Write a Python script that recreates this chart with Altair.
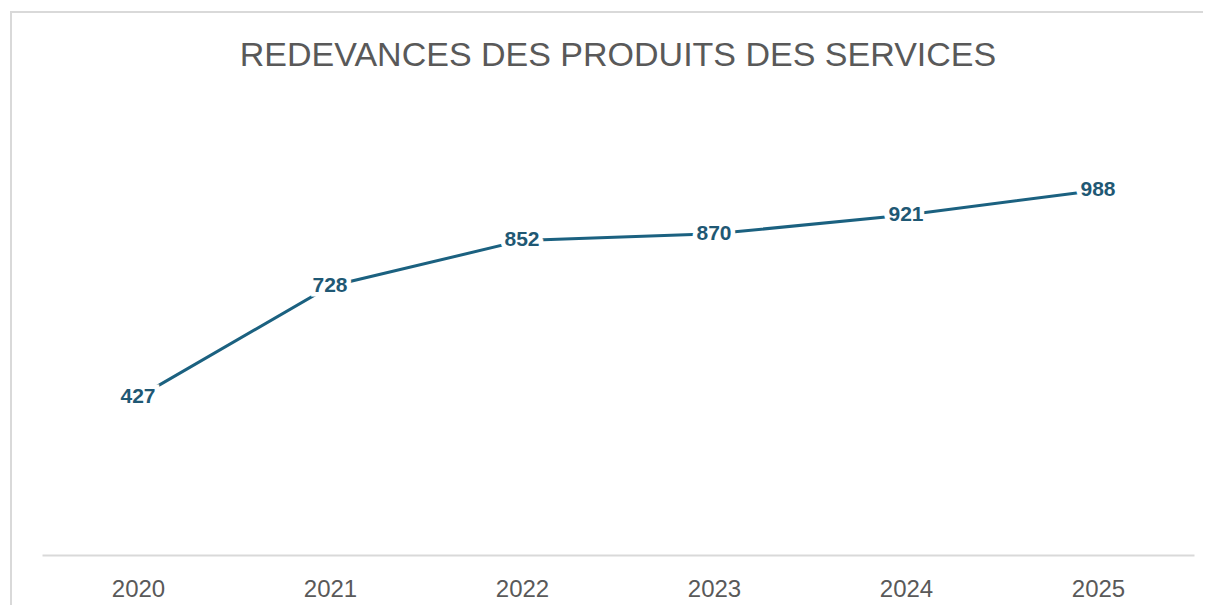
import altair as alt
import pandas as pd

years = ["2020", "2021", "2022", "2023", "2024", "2025"]
values = [427, 728, 852, 870, 921, 988]
title_text = "REDEVANCES DES PRODUITS DES SERVICES"

df = pd.DataFrame({"year": years, "value": values})

W, H = 1152, 443
LINE = "#1b6180"
LABEL = "#1f5874"
GRAY = "#595959"

x = alt.X("year:O", sort=years,
          scale=alt.Scale(type="point", padding=0.5),
          axis=alt.Axis(title=None, labelAngle=0, ticks=False, grid=False,
                        domainColor="#d9d9d9", domainWidth=2,
                        labelFont="Liberation Sans", labelFontSize=24,
                        labelColor=GRAY, labelPadding=22))
y = alt.Y("value:Q", scale=alt.Scale(domain=[0, 1200], nice=False), axis=None)

base = alt.Chart(df)

border = base.mark_rect(fill=None, stroke="#d9d9d9", strokeWidth=2).encode(
    x=alt.value(-31), x2=alt.value(W + 40), y=alt.value(-100), y2=alt.value(H + 120)
).transform_filter(alt.datum.year == "2020")

line = base.mark_line(color=LINE, strokeWidth=3).encode(x=x, y=y)

halo = base.mark_text(font="Liberation Sans", fontSize=21, fontWeight="bold",
                      stroke="white", strokeWidth=9, color="white",
                      baseline="middle").encode(x=x, y=y, text="value:Q")
labels = base.mark_text(font="Liberation Sans", fontSize=21, fontWeight="bold",
                        color=LABEL, baseline="middle").encode(x=x, y=y, text="value:Q")

chart = alt.layer(border, line, halo, labels).properties(
    width=W, height=H,
    background="white",
    title=alt.TitleParams(title_text, font="Liberation Sans", fontSize=34,
                          fontWeight="normal", color=GRAY, anchor="middle", offset=-62),
    padding={"left": 34, "top": 104, "right": 9, "bottom": 50},
    autosize=alt.AutoSizeParams(type="none"),
).configure_view(strokeOpacity=0, strokeWidth=0)

chart.save("out.html", embed_options={"renderer": "svg", "actions": False})
